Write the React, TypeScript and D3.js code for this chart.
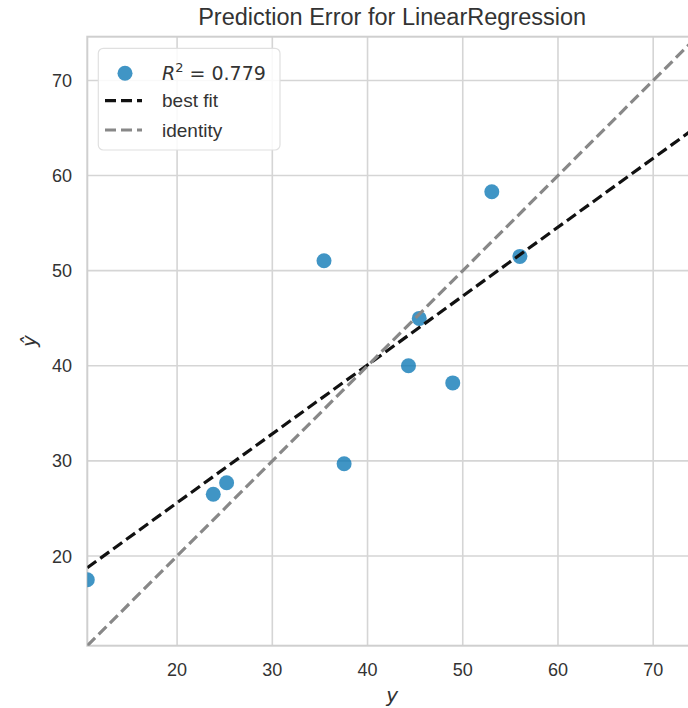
import React from "react";
import * as d3 from "d3";

const actual = [10.57, 23.8, 25.2, 35.43, 37.54, 44.3, 45.43, 48.95, 53.05, 56.0];
const predicted = [17.5, 26.5, 27.7, 51.05, 29.7, 40.0, 44.98, 38.2, 58.3, 51.5];
const bestFitX = [10.57, 74.6];
const bestFitY = [18.77, 65.15];
const limits = [10.57, 74.6];
const tickValues = [20, 30, 40, 50, 60, 70];
const r2Label = "0.779";

const W = 688;
const H = 708;
const PLOT = { left: 87.3, right: 697, top: 36.7, bottom: 645.7 };

export default function App() {
  const x = d3.scaleLinear().domain(limits).range([PLOT.left, PLOT.right]);
  const y = d3.scaleLinear().domain(limits).range([PLOT.bottom, PLOT.top]);

  const line = d3
    .line<[number, number]>()
    .x((d) => x(d[0]))
    .y((d) => y(d[1]));

  const fitPts: [number, number][] = bestFitX.map((v, i) => [v, bestFitY[i]]);
  const idPts: [number, number][] = [
    [limits[0], limits[0]],
    [limits[1], limits[1]],
  ];

  const grid = "#d5d5d5";
  const font = "'Liberation Sans', Arial, sans-serif";

  return (
    <svg
      width={W}
      height={H}
      style={{ position: "fixed", left: 0, top: 0, background: "#fff" }}
    >
      <defs>
        <clipPath id="plotclip">
          <rect
            x={PLOT.left}
            y={PLOT.top}
            width={PLOT.right - PLOT.left}
            height={PLOT.bottom - PLOT.top}
          />
        </clipPath>
      </defs>

      {/* grid */}
      <g>
        {tickValues.map((t) => (
          <line
            key={"gx" + t}
            x1={x(t)}
            x2={x(t)}
            y1={PLOT.top}
            y2={PLOT.bottom}
            stroke={grid}
            strokeWidth={1.6}
          />
        ))}
        {tickValues.map((t) => (
          <line
            key={"gy" + t}
            x1={PLOT.left}
            x2={PLOT.right}
            y1={y(t)}
            y2={y(t)}
            stroke={grid}
            strokeWidth={1.6}
          />
        ))}
        <rect
          x={PLOT.left}
          y={PLOT.top}
          width={PLOT.right - PLOT.left}
          height={PLOT.bottom - PLOT.top}
          fill="none"
          stroke="#cfcfcf"
          strokeWidth={2}
        />
      </g>

      <g clipPath="url(#plotclip)">
        {actual.map((v, i) => (
          <circle
            key={i}
            cx={x(v)}
            cy={y(predicted[i])}
            r={7.5}
            fill="#0072B2"
            fillOpacity={0.75}
          />
        ))}
        <path
          d={line(fitPts) || ""}
          fill="none"
          stroke="#111"
          strokeWidth={3.2}
          strokeDasharray="11,5"
        />
        <path
          d={line(idPts) || ""}
          fill="none"
          stroke="#888"
          strokeWidth={3.2}
          strokeDasharray="11,5"
        />
      </g>

      {/* tick labels */}
      <g fontFamily={font} fontSize={18} fill="#333">
        {tickValues.map((t) => (
          <text key={"tx" + t} x={x(t)} y={676} textAnchor="middle">
            {t}
          </text>
        ))}
        {tickValues.map((t) => (
          <text key={"ty" + t} x={72} y={y(t) + 6.5} textAnchor="end">
            {t}
          </text>
        ))}
      </g>

      {/* axis labels */}
      <text
        x={(PLOT.left + PLOT.right) / 2}
        y={702}
        textAnchor="middle"
        fontFamily="'DejaVu Sans', sans-serif"
        fontStyle="italic"
        fontSize={20}
        fill="#333"
      >
        y
      </text>
      <text
        transform={`translate(36,${(PLOT.top + PLOT.bottom) / 2}) rotate(-90)`}
        textAnchor="middle"
        fontFamily="'DejaVu Sans', sans-serif"
        fontStyle="italic"
        fontSize={20}
        fill="#333"
      >
        ŷ
      </text>

      {/* title */}
      <text
        x={(PLOT.left + PLOT.right) / 2}
        y={25}
        textAnchor="middle"
        fontFamily={font}
        fontSize={23.5}
        fill="#333"
      >
        Prediction Error for LinearRegression
      </text>

      {/* legend */}
      <g>
        <rect
          x={98.3}
          y={48.3}
          width={181.7}
          height={101.7}
          rx={5}
          fill="#fff"
          fillOpacity={0.85}
          stroke="#e0e0e0"
          strokeWidth={1.2}
        />
        <circle cx={125} cy={73.3} r={7.5} fill="#0072B2" fillOpacity={0.75} />
        <text x={162} y={80} fontFamily="'DejaVu Sans', sans-serif" fontSize={19} fill="#333">
          <tspan fontStyle="italic">R</tspan>
          <tspan fontSize={13} dy={-8}>2</tspan>
          <tspan dy={8}>{"  = " + r2Label}</tspan>
        </text>
        <line x1={105} x2={142} y1={100.7} y2={100.7} stroke="#111" strokeWidth={3.2} strokeDasharray="11,5" />
        <text x={162} y={107} fontFamily={font} fontSize={19} fill="#333">
          best fit
        </text>
        <line x1={105} x2={142} y1={130} y2={130} stroke="#888" strokeWidth={3.2} strokeDasharray="11,5" />
        <text x={162} y={136.5} fontFamily={font} fontSize={19} fill="#333">
          identity
        </text>
      </g>
    </svg>
  );
}
